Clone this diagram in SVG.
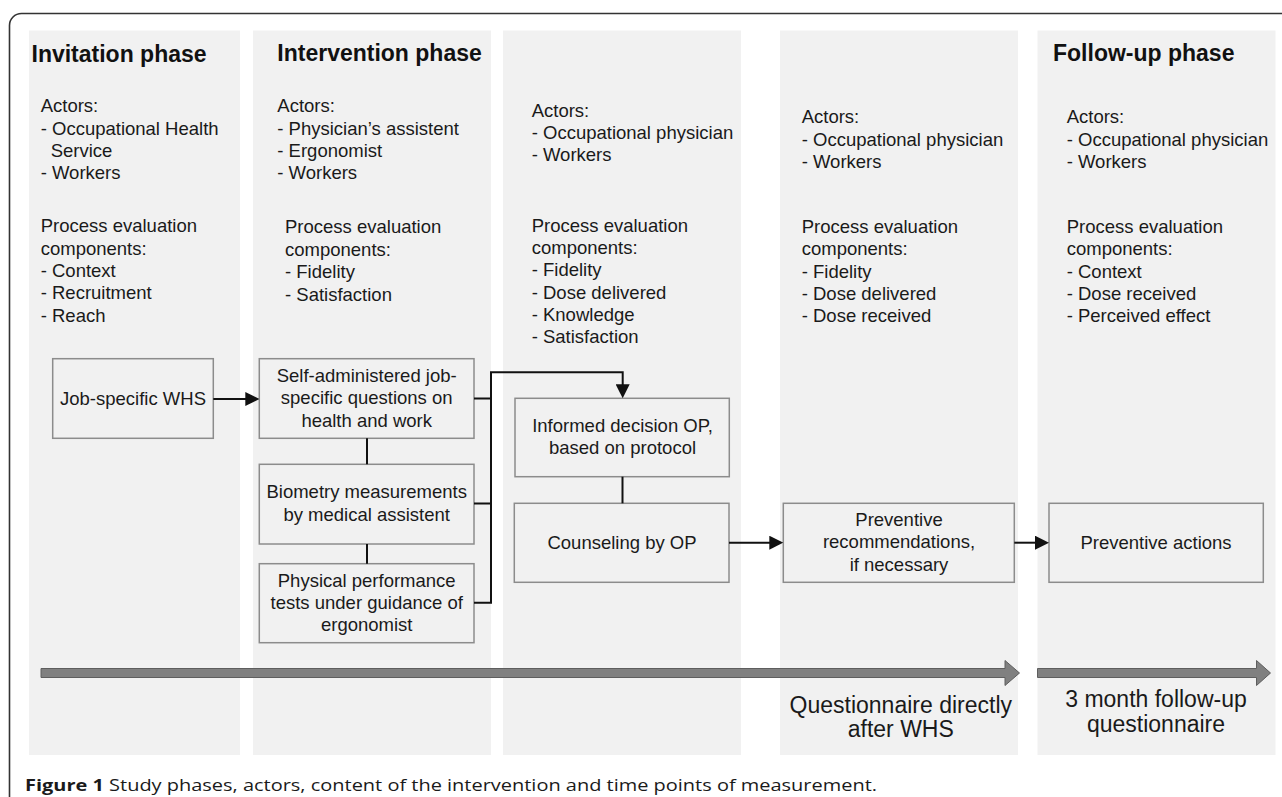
<svg xmlns="http://www.w3.org/2000/svg" width="1282" height="797" viewBox="0 0 1282 797">
<defs>
<style>
.bg { fill:#ffffff }
.frame { fill:none; stroke:#333333; stroke-width:1.6 }
.col { fill:#f1f1f1 }
.t { font-family:"Liberation Sans", Arial, sans-serif; font-size:18.5px; fill:#1a1a1a }
.title { font-family:"Liberation Sans", Arial, sans-serif; font-size:23px; font-weight:bold; fill:#111111 }
.c { text-anchor:middle }
.box { fill:#f1f1f1; stroke:#8c8c8c; stroke-width:1.5 }
.conn { fill:none; stroke:#111111; stroke-width:2 }
.big { fill:#808080; stroke:#5e5e5e; stroke-width:1 }
.lbl { font-family:"Liberation Sans", Arial, sans-serif; font-size:23px; fill:#1a1a1a; text-anchor:middle }
.cap { font-family:"Open Sans", "Liberation Sans", sans-serif; font-size:16px; font-weight:500; fill:#1a1a1a }
</style>
<marker id="ah" viewBox="0 0 14 14" markerUnits="userSpaceOnUse" markerWidth="14" markerHeight="14" refX="10" refY="7" orient="auto">
<path d="M0,0 L14,7 L0,14 z" fill="#111111"/>
</marker>
</defs>
<rect class="bg" x="0" y="0" width="1282" height="797"/>
<rect class="frame" x="9.5" y="13.5" width="1300" height="795" rx="12" ry="12"/>

<g id="columns">
<rect class="col" x="29" y="30.5" width="211" height="724.5"/>
<rect class="col" x="253" y="30.5" width="238" height="724.5"/>
<rect class="col" x="503" y="30.5" width="238" height="724.5"/>
<rect class="col" x="780" y="30.5" width="238" height="724.5"/>
<rect class="col" x="1037.5" y="30.5" width="238" height="724.5"/>
</g>

<g id="phase-invitation">
<text class="title" x="31.5" y="62">Invitation phase</text>
<text class="t"><tspan x="40.7" y="112.3">Actors:</tspan><tspan x="40.7" y="134.5">- Occupational Health</tspan><tspan x="50.7" y="156.7">Service</tspan><tspan x="40.7" y="179">- Workers</tspan></text>
<text class="t"><tspan x="40.7" y="232.3">Process evaluation</tspan><tspan x="40.7" y="254.5">components:</tspan><tspan x="40.7" y="276.8">- Context</tspan><tspan x="40.7" y="299.2">- Recruitment</tspan><tspan x="40.7" y="321.6">- Reach</tspan></text>
</g>

<g id="phase-intervention">
<text class="title" x="277.3" y="61">Intervention phase</text>
<text class="t"><tspan x="277.3" y="112.3">Actors:</tspan><tspan x="277.3" y="134.5">- Physician’s assistent</tspan><tspan x="277.3" y="156.7">- Ergonomist</tspan><tspan x="277.3" y="179">- Workers</tspan></text>
<text class="t"><tspan x="285" y="233.3">Process evaluation</tspan><tspan x="285" y="255.6">components:</tspan><tspan x="285" y="278.2">- Fidelity</tspan><tspan x="285" y="300.8">- Satisfaction</tspan></text>
</g>

<g id="phase-op">
<text class="t"><tspan x="531.7" y="116.7">Actors:</tspan><tspan x="531.7" y="139">- Occupational physician</tspan><tspan x="531.7" y="161.3">- Workers</tspan></text>
<text class="t"><tspan x="531.7" y="231.7">Process evaluation</tspan><tspan x="531.7" y="253.8">components:</tspan><tspan x="531.7" y="276.4">- Fidelity</tspan><tspan x="531.7" y="298.7">- Dose delivered</tspan><tspan x="531.7" y="321">- Knowledge</tspan><tspan x="531.7" y="343.3">- Satisfaction</tspan></text>
</g>

<g id="phase-recommendation">
<text class="t"><tspan x="801.7" y="123.3">Actors:</tspan><tspan x="801.7" y="145.7">- Occupational physician</tspan><tspan x="801.7" y="167.8">- Workers</tspan></text>
<text class="t"><tspan x="801.7" y="232.7">Process evaluation</tspan><tspan x="801.7" y="255">components:</tspan><tspan x="801.7" y="277.6">- Fidelity</tspan><tspan x="801.7" y="299.6">- Dose delivered</tspan><tspan x="801.7" y="322">- Dose received</tspan></text>
</g>

<g id="phase-followup">
<text class="title" x="1053" y="61">Follow-up phase</text>
<text class="t"><tspan x="1066.7" y="123.3">Actors:</tspan><tspan x="1066.7" y="145.7">- Occupational physician</tspan><tspan x="1066.7" y="167.8">- Workers</tspan></text>
<text class="t"><tspan x="1066.7" y="232.7">Process evaluation</tspan><tspan x="1066.7" y="255">components:</tspan><tspan x="1066.7" y="277.6">- Context</tspan><tspan x="1066.7" y="299.6">- Dose received</tspan><tspan x="1066.7" y="322">- Perceived effect</tspan></text>
</g>

<g id="node-whs">
<rect class="box" x="52.7" y="358.7" width="160.6" height="79.6"/>
<text class="t c" x="133" y="404.5">Job-specific WHS</text>
</g>
<g id="node-self">
<rect class="box" x="259.3" y="358.7" width="214.7" height="79.6"/>
<text class="t c"><tspan x="366.7" y="381.7">Self-administered job-</tspan><tspan x="366.7" y="404.2">specific questions on</tspan><tspan x="366.7" y="426.7">health and work</tspan></text>
</g>
<g id="node-biometry">
<rect class="box" x="259.3" y="464.3" width="214.7" height="79.7"/>
<text class="t c"><tspan x="366.7" y="498.3">Biometry measurements</tspan><tspan x="366.7" y="520.7">by medical assistent</tspan></text>
</g>
<g id="node-physical">
<rect class="box" x="259.3" y="563.7" width="214.7" height="79"/>
<text class="t c"><tspan x="366.7" y="586.7">Physical performance</tspan><tspan x="366.7" y="609">tests under guidance of</tspan><tspan x="366.7" y="631.3">ergonomist</tspan></text>
</g>
<g id="node-informed">
<rect class="box" x="515" y="398.3" width="214.3" height="78.4"/>
<text class="t c"><tspan x="622.5" y="431.7">Informed decision OP,</tspan><tspan x="622.5" y="454">based on protocol</tspan></text>
</g>
<g id="node-counseling">
<rect class="box" x="514.3" y="503.3" width="214.7" height="79"/>
<text class="t c" x="622" y="548.5">Counseling by OP</text>
</g>
<g id="node-recommendations">
<rect class="box" x="783.3" y="503.3" width="231" height="79"/>
<text class="t c"><tspan x="899" y="525.8">Preventive</tspan><tspan x="899" y="548.3">recommendations,</tspan><tspan x="899" y="570.7">if necessary</tspan></text>
</g>
<g id="node-actions">
<rect class="box" x="1049" y="503.3" width="214.3" height="79"/>
<text class="t c" x="1156" y="548.5">Preventive actions</text>
</g>

<g id="connectors">
<path class="conn" d="M213.3,399 H255.3" marker-end="url(#ah)"/>
<path class="conn" d="M367,438.3 V464.3"/>
<path class="conn" d="M367,544 V563.7"/>
<path class="conn" d="M474,398.5 H491 M474,503.5 H491 M474,602.7 H491 V372.3 H622.7 V394.3" marker-end="url(#ah)"/>
<path class="conn" d="M622.5,476.7 V503.3"/>
<path class="conn" d="M729,542.7 H779.3" marker-end="url(#ah)"/>
<path class="conn" d="M1014.3,542.7 H1045" marker-end="url(#ah)"/>
</g>

<g id="timeline">
<polygon class="big" points="41,668.5 1005,668.5 1005,660.5 1019.5,673 1005,685.5 1005,677.5 41,677.5"/>
<polygon class="big" points="1037.5,668.5 1256.5,668.5 1256.5,660.5 1270.5,673 1256.5,685.5 1256.5,677.5 1037.5,677.5"/>
<text class="lbl"><tspan x="900.8" y="712.7">Questionnaire directly</tspan><tspan x="900.8" y="736.7">after WHS</tspan></text>
<text class="lbl"><tspan x="1156" y="706.7">3 month follow-up</tspan><tspan x="1156" y="731.7">questionnaire</tspan></text>
</g>

<text class="cap" x="25" y="791" textLength="852" lengthAdjust="spacingAndGlyphs"><tspan font-weight="bold">Figure 1</tspan> Study phases, actors, content of the intervention and time points of measurement.</text>
</svg>
